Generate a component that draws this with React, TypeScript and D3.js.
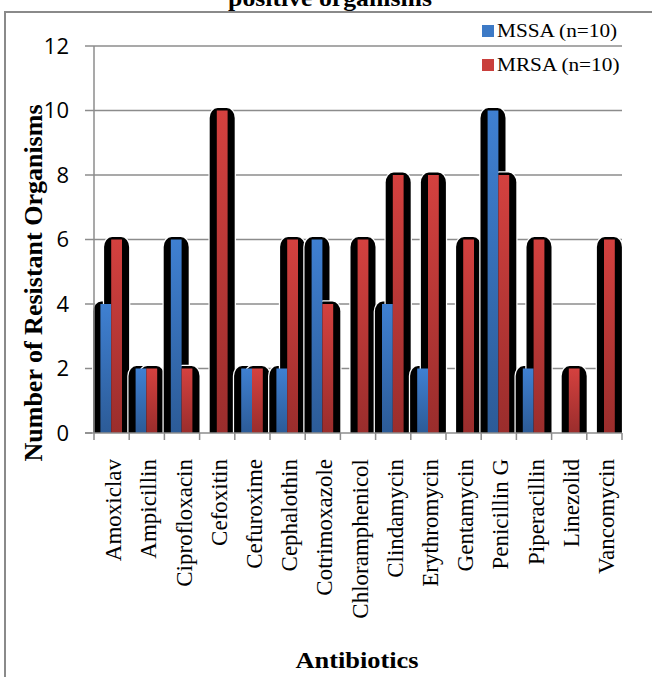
import React from 'react';
import * as d3 from 'd3';

const antibiotics = [
  'Amoxiclav', 'Ampicillin', 'Ciprofloxacin', 'Cefoxitin', 'Cefuroxime',
  'Cephalothin', 'Cotrimoxazole', 'Chloramphenicol', 'Clindamycin', 'Erythromycin',
  'Gentamycin', 'Penicillin G', 'Piperacillin', 'Linezolid', 'Vancomycin',
];
const seriesNames = ['MSSA (n=10)', 'MRSA (n=10)'];
const mssa = [4, 2, 6, 0, 2, 2, 6, 0, 4, 2, 0, 10, 2, 0, 0];
const mrsa = [6, 2, 2, 10, 2, 6, 4, 6, 8, 8, 6, 8, 6, 2, 6];
const yTicks = [0, 2, 4, 6, 8, 10, 12];

const W = 652;
const H = 677;
const plot = { left: 94, right: 622, top: 46, bottom: 433 };

// rounded-top black "shadow" behind each bar
const pill = (x0: number, w: number, top: number, bottom: number, rx: number, ry: number) =>
  `M${x0},${bottom}V${top + ry}A${rx},${ry} 0 0 1 ${x0 + rx},${top}H${x0 + w - rx}A${rx},${ry} 0 0 1 ${x0 + w},${top + ry}V${bottom}Z`;

export default function App() {
  const x = d3.scaleBand<string>().domain(antibiotics).range([plot.left, plot.right]).paddingInner(0).paddingOuter(0);
  const bw = x.bandwidth();
  const xs = d3.scaleBand<string>().domain(seriesNames).range([bw / 2 - 11.2, bw / 2 + 10.4]);
  const y = d3.scaleLinear().domain([0, 12]).range([plot.bottom, plot.top]);

  const series = [
    { name: seriesNames[0], values: mssa, grad: 'gBlue', legend: '#3d7ac6' },
    { name: seriesNames[1], values: mrsa, grad: 'gRed', legend: '#c93f3c' },
  ];

  const barW = xs.bandwidth();
  const pillW = 25;
  const serif = '"Liberation Serif", "Times New Roman", serif';
  const ticksX = [...antibiotics.map(a => x(a) as number), plot.right];

  return (
    <>
      <style>{`body{margin:0}`}</style>
      <svg width={W} height={H} style={{ display: 'block', background: '#fff' }}>
        <defs>
          <linearGradient id="gBlue" x1="0" y1="0" x2="0" y2="1">
            <stop offset="0" stopColor="#3f80d2" />
            <stop offset="1" stopColor="#2c5b97" />
          </linearGradient>
          <linearGradient id="gRed" x1="0" y1="0" x2="0" y2="1">
            <stop offset="0" stopColor="#d4413f" />
            <stop offset="1" stopColor="#9a2d2c" />
          </linearGradient>
        </defs>

        {/* title, cut off at the top as in the source */}
        <text x={330} y={6} textAnchor="middle" fontFamily={serif} fontWeight="bold" fontSize={23}
          transform="translate(330,0) scale(1.12,1) translate(-330,0)">positive organisms</text>

        {/* frame */}
        <path d={`M5,${H}V12H${W}`} fill="none" stroke="#8a8a8a" strokeWidth={2} />

        {/* gridlines + y ticks */}
        {yTicks.map(t => (
          <g key={t}>
            {t > 0 && <line x1={plot.left} x2={plot.right} y1={y(t)} y2={y(t)} stroke="#8c8c8c" strokeWidth={1.5} />}
            <line x1={85} x2={plot.left} y1={y(t)} y2={y(t)} stroke="#8c8c8c" strokeWidth={1.5} />
            <text x={69} y={y(t)} dy="0.36em" textAnchor="end" fontFamily='"Open Sans", sans-serif' fontSize={22} fill="#000">{t}</text>
          </g>
        ))}

        {/* bars: shadows first, then the bars */}
        {antibiotics.map((a, i) => (
          <g key={a}>
            {series.map(s => {
              const v = s.values[i];
              if (!v) return null;
              const cx = (x(a) as number) + (xs(s.name) as number) + barW / 2;
              return (
                <path key={s.name} d={pill(cx - pillW / 2, pillW, y(v) - 2.5, y(0), 8, 10)}
                  fill="#000" stroke="#fff" strokeWidth={2.5} style={{ paintOrder: 'stroke' }} />
              );
            })}
            {series.map(s => {
              const v = s.values[i];
              if (!v) return null;
              return (
                <rect key={s.name} x={(x(a) as number) + (xs(s.name) as number)} y={y(v)} width={barW}
                  height={y(0) - y(v)} fill={`url(#${s.grad})`} />
              );
            })}
          </g>
        ))}

        {/* axes */}
        <line x1={plot.left} x2={plot.left} y1={plot.top} y2={plot.bottom} stroke="#8c8c8c" strokeWidth={1.5} />
        <line x1={85} x2={plot.right} y1={plot.bottom} y2={plot.bottom} stroke="#8c8c8c" strokeWidth={1.5} />
        {ticksX.map((tx, i) => (
          <line key={i} x1={tx} x2={tx} y1={plot.bottom} y2={plot.bottom + 7} stroke="#8c8c8c" strokeWidth={1.5} />
        ))}

        {/* category labels */}
        {antibiotics.map(a => (
          <text key={a} transform={`translate(${(x(a) as number) + bw / 2},459) rotate(-90)`} dy="0.42em"
            textAnchor="end" fontFamily={serif} fontSize={23} fill="#000">{a}</text>
        ))}

        {/* axis titles */}
        <text transform="translate(42,283) rotate(-90)" textAnchor="middle" fontFamily={serif} fontWeight="bold"
          fontSize={26} fill="#000">Number of Resistant Organisms</text>
        <text transform="translate(357,668) scale(1.1,1)" textAnchor="middle" fontFamily={serif} fontWeight="bold"
          fontSize={24} fill="#000">Antibiotics</text>

        {/* legend */}
        {series.map((s, i) => (
          <g key={s.name} transform={`translate(482,${25 + i * 34})`}>
            <rect width={12} height={12} fill={s.legend} />
            <text transform="translate(15,12) scale(1.12,1)" fontFamily={serif} fontSize={19} fill="#000">{s.name}</text>
          </g>
        ))}
      </svg>
    </>
  );
}
